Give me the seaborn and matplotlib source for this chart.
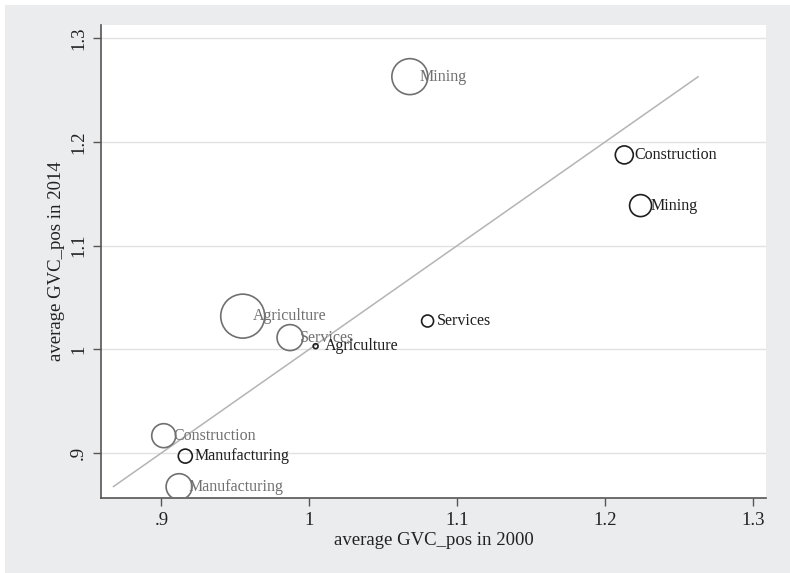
from matplotlib import pyplot as plt
from matplotlib.patches import Rectangle
import seaborn as sns
import pandas as pd

# sector averages, 2000 vs 2014 (two groups of countries)
sectors_grey = ["Mining", "Agriculture", "Services", "Construction", "Manufacturing"]
x_grey = [1.068, 0.955, 0.987, 0.9016, 0.912]
y_grey = [1.263, 1.032, 1.0113, 0.9167, 0.8675]
w_grey = [324, 484, 169, 144, 169]

sectors_black = ["Construction", "Mining", "Services", "Agriculture", "Manufacturing"]
x_black = [1.213, 1.224, 1.080, 1.0043, 0.9162]
y_black = [1.1875, 1.1386, 1.0273, 1.003, 0.897]
w_black = [81, 121, 36, 6, 49]

x_ticks = [0.9, 1.0, 1.1, 1.2, 1.3]
tick_labels = [".9", "1", "1.1", "1.2", "1.3"]

df_grey = pd.DataFrame({"sector": sectors_grey, "x": x_grey, "y": y_grey, "w": w_grey})
df_black = pd.DataFrame({"sector": sectors_black, "x": x_black, "y": y_black, "w": w_black})

sns.set_style("white")
plt.rcParams["font.family"] = ["Liberation Serif", "DejaVu Serif"]

fig = plt.figure(figsize=(7.9, 5.73), dpi=100)
fig.patch.set_facecolor("white")
fig.patches.append(Rectangle((5 / 790, 0), 1, 1 - 5 / 573, transform=fig.transFigure,
                             facecolor="#ebeced", edgecolor="none", zorder=-10))
ax = fig.add_axes([101 / 790, 1 - 498 / 573, 665 / 790, 473 / 573])
ax.set_facecolor("white")

# 45 degree line spanning the data range
all_vals = x_grey + y_grey + x_black + y_black
lo, hi = min(all_vals), max(all_vals)
sns.lineplot(x=[lo, hi], y=[lo, hi], color="#b4b4b4", linewidth=1.1, ax=ax, zorder=2)

wmin = min(w_grey + w_black)
wmax = max(w_grey + w_black)
k = 2.07
for d, col in [(df_grey, "#707070"), (df_black, "#1e1e1e")]:
    sns.scatterplot(data=d, x="x", y="y", size="w", sizes=(k * wmin, k * wmax),
                    size_norm=(wmin, wmax), facecolor="none", edgecolor=col,
                    linewidth=1.2, legend=False, ax=ax, zorder=3)
    for _, r in d.iterrows():
        ax.annotate(r["sector"], (r["x"], r["y"]), xytext=(7, 0),
                    textcoords="offset points", va="center", ha="left",
                    fontsize=11.5, color=col, zorder=4)

ax.set_xlim(0.8592, 1.3088)
ax.set_ylim(0.8566, 1.3128)
ax.set_xticks(x_ticks)
ax.set_xticklabels(tick_labels, fontsize=13.5, color="#222222")
ax.set_yticks(x_ticks)
ax.set_yticklabels(tick_labels, fontsize=13.5, color="#222222", rotation=90, va="center")
ax.yaxis.grid(True, color="#e2e2e2", linewidth=1.0)
ax.xaxis.grid(False)
ax.set_axisbelow(True)
ax.tick_params(axis="both", direction="out", length=6, width=1, color="#555555",
               left=True, bottom=True, pad=4)
for s in ["top", "right"]:
    ax.spines[s].set_visible(False)
for s in ["left", "bottom"]:
    ax.spines[s].set_color("#555555")
    ax.spines[s].set_linewidth(1.2)

ax.set_xlabel("average GVC_pos in 2000", fontsize=13.5, color="#222222", labelpad=2)
ax.set_ylabel("average GVC_pos in 2014", fontsize=13.5, color="#222222", labelpad=4)

fig.savefig("out.png", dpi=100)
